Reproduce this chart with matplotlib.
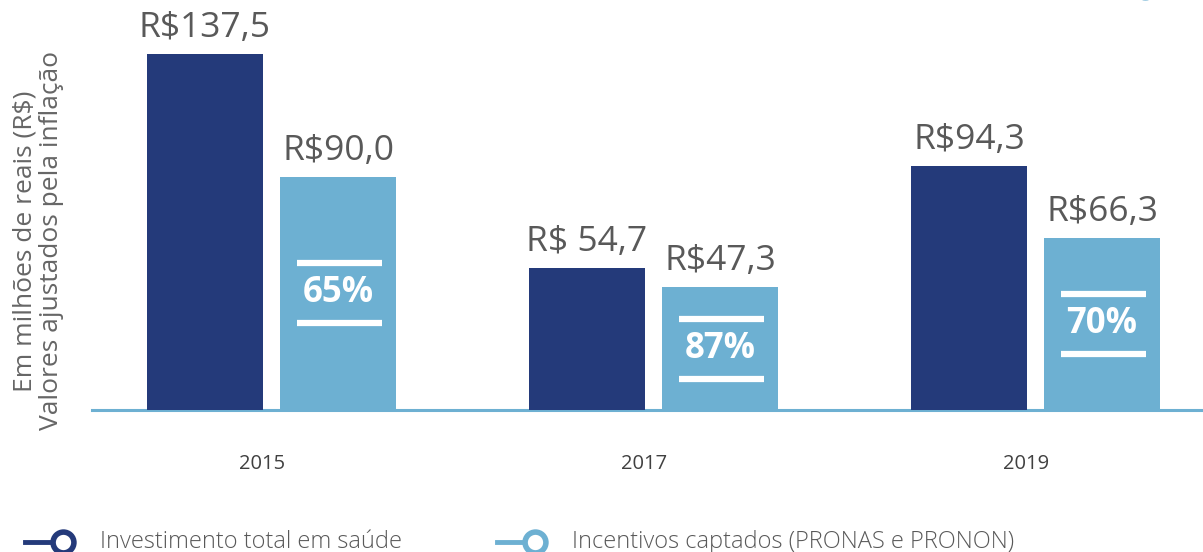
import matplotlib
matplotlib.use("Agg")
import matplotlib.pyplot as plt
from matplotlib.lines import Line2D

years = ["2015", "2017", "2019"]
investimento = [137.5, 54.7, 94.3]
incentivos = [90.0, 47.3, 66.3]
inv_labels = ["R$137,5", "R$ 54,7", "R$94,3"]
inc_labels = ["R$90,0", "R$47,3", "R$66,3"]
pct_labels = ["65%", "87%", "70%"]
legend_labels = ["Investimento total em saúde", "Incentivos captados (PRONAS e PRONON)"]
ylabel_lines = ["Em milhões de reais (R$)", "Valores ajustados pela inflação"]

DARK = "#243A7A"
LIGHT = "#6DB0D2"
GRAY = "#595959"
FONT = "Open Sans"

plt.rcParams["font.family"] = [FONT, "DejaVu Sans"]

W, H = 1203, 552
fig = plt.figure(figsize=(W / 100, H / 100), dpi=100)
ax = fig.add_axes([92 / W, (H - 410) / H, 1 - 92 / W, 410 / H])

px_per_unit = 2.59
ax.set_ylim(0, 410 / px_per_unit)
spacing = 382.0
ax.set_xlim((92 - 271.5) / spacing, (1203 - 271.5) / spacing)

x = list(range(len(years)))
bw = 116 / spacing
off = 66.5 / spacing
xd = [i - off for i in x]
xl = [i + off for i in x]
bars_d = ax.bar(xd, investimento, width=bw, color=DARK, zorder=2)
bars_l = ax.bar(xl, incentivos, width=bw, color=LIGHT, zorder=2)

for bars, labels in ((bars_d, inv_labels), (bars_l, inc_labels)):
    for b, lab in zip(bars, labels):
        ax.annotate(lab, (b.get_x() + b.get_width() / 2, b.get_height()),
                    xytext=(0, 9), textcoords="offset pixels", ha="center", va="bottom",
                    fontsize=25.5, color=GRAY)

for b, lab in zip(bars_l, pct_labels):
    cx = b.get_x() + b.get_width() / 2
    cy = b.get_height() / 2
    ax.text(cx, cy, lab, ha="center", va="center", fontsize=25, color="white",
            fontweight="bold", zorder=4)
    for dy in (30, -30):
        yv = cy + dy / px_per_unit
        ax.hlines(yv, b.get_x() + 17 / spacing, b.get_x() + 102 / spacing,
                  colors="white", lw=4.5, zorder=3)

ax.set_xticks([i - 0.025 for i in x])
ax.set_xticklabels(years, fontsize=14.5, color="#404040")
ax.tick_params(axis="x", length=0, pad=32)
ax.set_yticks([])
for s in ["top", "right", "left"]:
    ax.spines[s].set_visible(False)
ax.spines["bottom"].set_color(LIGHT)
ax.spines["bottom"].set_linewidth(2.2)
ax.spines["bottom"].set_zorder(1)

fig.text(25 / W, 1 - 241 / H, ylabel_lines[0], rotation=90, ha="center", va="center",
         fontsize=19, color="#666666")
fig.text(52 / W, 1 - 241 / H, ylabel_lines[1], rotation=90, ha="center", va="center",
         fontsize=19, color="#666666")

# legend
leg_y = 1 - 542 / H
for (x0, col, lab) in [(25, DARK, legend_labels[0]), (497, LIGHT, legend_labels[1])]:
    fig.add_artist(Line2D([x0 / W, (x0 + 30) / W], [leg_y, leg_y], color=col, lw=3.5,
                          transform=fig.transFigure))
    fig.add_artist(Line2D([(x0 + 38) / W], [leg_y], marker="o", markersize=15,
                          markerfacecolor="white", markeredgecolor=col, markeredgewidth=4,
                          transform=fig.transFigure))
    fig.text((x0 + 75) / W, leg_y, lab, ha="left", va="center", fontsize=17,
             color=GRAY, fontweight="light")

# partially visible decorative circle at the top right
fig.add_artist(Line2D([1145 / W], [1 + 11 / H], marker="o", markersize=12,
                      markerfacecolor="white", markeredgecolor=LIGHT, markeredgewidth=4,
                      transform=fig.transFigure, clip_on=False))

fig.savefig("out.png", dpi=100)
